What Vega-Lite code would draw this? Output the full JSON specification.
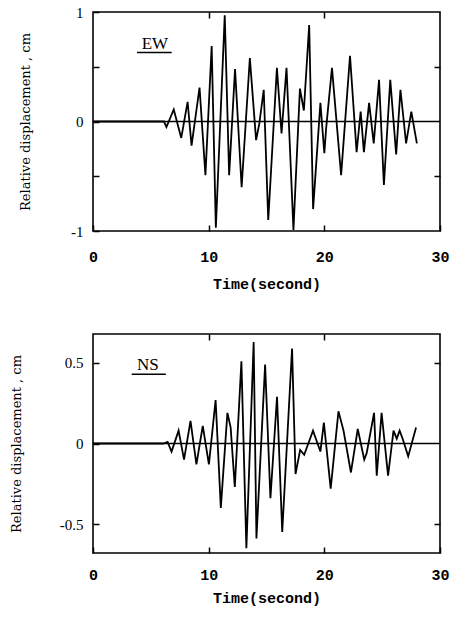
{
  "$schema": "https://vega.github.io/schema/vega-lite/v6.json",
  "background": "white",
  "padding": {"left": 9, "top": 4, "right": 0, "bottom": 10},
  "spacing": 40,
  "config": {
    "view": {"stroke": "black", "strokeWidth": 1.6},
    "axis": {
      "grid": false, "domain": false, "tickColor": "black", "tickSize": -6, "tickWidth": 1.5,
      "labelColor": "black", "titleColor": "black",
      "labelFont": "Liberation Serif", "labelFontSize": 15,
      "titleFont": "DejaVu Serif", "titleFontWeight": "normal", "titleFontSize": 13
    }
  },
  "datasets": {
    "ew": [
      {"t": 0, "v": 0}, {"t": 6.13, "v": 0}, {"t": 6.35, "v": -0.05}, {"t": 6.98, "v": 0.11},
      {"t": 7.63, "v": -0.15}, {"t": 8.18, "v": 0.18}, {"t": 8.52, "v": -0.22}, {"t": 9.21, "v": 0.31},
      {"t": 9.72, "v": -0.49}, {"t": 10.26, "v": 0.69}, {"t": 10.62, "v": -0.97}, {"t": 11.39, "v": 0.97},
      {"t": 11.77, "v": -0.49}, {"t": 12.28, "v": 0.48}, {"t": 12.85, "v": -0.6}, {"t": 13.56, "v": 0.58},
      {"t": 14.1, "v": -0.17}, {"t": 14.38, "v": -0.02}, {"t": 14.76, "v": 0.29}, {"t": 15.15, "v": -0.9},
      {"t": 15.9, "v": 0.49}, {"t": 16.3, "v": -0.11}, {"t": 16.73, "v": 0.49}, {"t": 17.33, "v": -0.99},
      {"t": 17.89, "v": 0.3}, {"t": 18.23, "v": 0.1}, {"t": 18.69, "v": 0.88}, {"t": 19.03, "v": -0.8},
      {"t": 19.66, "v": 0.17}, {"t": 20.0, "v": -0.29}, {"t": 20.15, "v": -0.07}, {"t": 20.66, "v": 0.49},
      {"t": 21.45, "v": -0.49}, {"t": 22.22, "v": 0.6}, {"t": 22.79, "v": -0.28}, {"t": 23.14, "v": 0.09},
      {"t": 23.42, "v": -0.28}, {"t": 23.87, "v": 0.17}, {"t": 24.27, "v": -0.2}, {"t": 24.73, "v": 0.38},
      {"t": 25.15, "v": -0.58}, {"t": 25.7, "v": 0.38}, {"t": 26.21, "v": -0.3}, {"t": 26.58, "v": 0.29},
      {"t": 27.07, "v": -0.2}, {"t": 27.52, "v": 0.09}, {"t": 28.0, "v": -0.2}
    ],
    "ns": [
      {"t": 0, "v": 0}, {"t": 6.09, "v": 0}, {"t": 6.45, "v": 0.01}, {"t": 6.79, "v": -0.05},
      {"t": 7.4, "v": 0.08}, {"t": 7.87, "v": -0.1}, {"t": 8.43, "v": 0.14}, {"t": 8.94, "v": -0.13},
      {"t": 9.49, "v": 0.11}, {"t": 10.02, "v": -0.13}, {"t": 10.6, "v": 0.27}, {"t": 11.05, "v": -0.4},
      {"t": 11.62, "v": 0.19}, {"t": 11.9, "v": 0.1}, {"t": 12.26, "v": -0.27}, {"t": 12.83, "v": 0.51},
      {"t": 13.26, "v": -0.65}, {"t": 13.89, "v": 0.63}, {"t": 14.13, "v": -0.59}, {"t": 14.88, "v": 0.49},
      {"t": 15.34, "v": -0.34}, {"t": 15.91, "v": 0.29}, {"t": 16.36, "v": -0.55}, {"t": 17.21, "v": 0.59},
      {"t": 17.51, "v": -0.19}, {"t": 17.91, "v": -0.04}, {"t": 18.26, "v": -0.07}, {"t": 19.02, "v": 0.08},
      {"t": 19.66, "v": -0.05}, {"t": 19.96, "v": 0.13}, {"t": 20.55, "v": -0.28}, {"t": 21.22, "v": 0.2},
      {"t": 21.66, "v": 0.08}, {"t": 22.3, "v": -0.18}, {"t": 22.89, "v": 0.09}, {"t": 23.45, "v": -0.1},
      {"t": 23.66, "v": -0.06}, {"t": 24.3, "v": 0.19}, {"t": 24.53, "v": -0.2}, {"t": 24.95, "v": 0.19},
      {"t": 25.51, "v": -0.2}, {"t": 25.98, "v": 0.08}, {"t": 26.26, "v": 0.03}, {"t": 26.51, "v": 0.08},
      {"t": 26.77, "v": 0.03}, {"t": 27.25, "v": -0.08}, {"t": 27.93, "v": 0.1}
    ]
  },
  "vconcat": [
    {
      "width": 347, "height": 219,
      "layer": [
        {
          "data": {"name": "ew"},
          "mark": {"type": "line", "color": "black", "strokeWidth": 1.8},
          "encoding": {
            "x": {"field": "t", "type": "quantitative", "scale": {"domain": [0, 30], "nice": false},
              "axis": {"orient": "bottom", "values": [0, 10, 20, 30], "title": "Time(second)",
                "labelFont": "Liberation Mono", "labelFontWeight": "bold", "labelFontSize": 15,
                "labelPadding": 24, "labelFlush": false,
                "titleFont": "Liberation Mono", "titleFontWeight": "bold", "titleFontSize": 15, "titlePadding": 12}},
            "y": {"field": "v", "type": "quantitative", "scale": {"domain": [-1, 1], "nice": false},
              "axis": {"orient": "left", "values": [-1, -0.5, 0, 0.5, 1],
                "labelExpr": "datum.value == 1 ? '1' : datum.value == 0 ? '0' : datum.value == -1 ? '-1' : ''",
                "labelPadding": 16, "title": "Relative displacement , cm", "titlePadding": 38}}
          }
        },
        {
          "data": {"values": [{}]},
          "mark": {"type": "rule", "color": "black", "strokeWidth": 1.5},
          "encoding": {"y": {"datum": 0, "type": "quantitative", "axis": null}}
        },
        {
          "data": {"values": [{}]},
          "mark": {"type": "text", "font": "Liberation Serif", "fontSize": 17, "color": "black", "baseline": "middle", "align": "center"},
          "encoding": {
            "x": {"datum": 5.35, "type": "quantitative", "axis": {"orient": "top", "values": [10, 20], "labels": false, "title": null}},
            "y": {"datum": 0.71, "type": "quantitative", "axis": {"orient": "right", "values": [-0.5, 0.5], "labels": false, "title": null}},
            "text": {"value": "EW"}
          }
        },
        {
          "data": {"values": [{}]},
          "mark": {"type": "rule", "color": "black", "strokeWidth": 1.3},
          "encoding": {
            "x": {"datum": 3.8, "type": "quantitative", "axis": null},
            "x2": {"datum": 6.8},
            "y": {"datum": 0.63, "type": "quantitative", "axis": null}
          }
        }
      ],
      "resolve": {"axis": {"x": "independent", "y": "independent"}}
    },
    {
      "width": 347, "height": 219,
      "layer": [
        {
          "data": {"name": "ns"},
          "mark": {"type": "line", "color": "black", "strokeWidth": 1.8},
          "encoding": {
            "x": {"field": "t", "type": "quantitative", "scale": {"domain": [0, 30], "nice": false},
              "axis": {"orient": "bottom", "values": [0, 10, 20, 30], "title": "Time(second)",
                "labelFont": "Liberation Mono", "labelFontWeight": "bold", "labelFontSize": 15,
                "labelPadding": 20, "labelFlush": false,
                "titleFont": "Liberation Mono", "titleFontWeight": "bold", "titleFontSize": 15, "titlePadding": 8}},
            "y": {"field": "v", "type": "quantitative", "scale": {"domain": [-0.68, 0.68], "nice": false},
              "axis": {"orient": "left", "values": [-0.5, 0, 0.5],
                "labelExpr": "datum.value == 0.5 ? '0.5' : datum.value == 0 ? '0' : datum.value == -0.5 ? '-0.5' : ''",
                "labelPadding": 16, "title": "Relative displacement , cm", "titlePadding": 36}}
          }
        },
        {
          "data": {"values": [{}]},
          "mark": {"type": "rule", "color": "black", "strokeWidth": 1.5},
          "encoding": {"y": {"datum": 0, "type": "quantitative", "axis": null}}
        },
        {
          "data": {"values": [{}]},
          "mark": {"type": "text", "font": "Liberation Serif", "fontSize": 17, "color": "black", "baseline": "middle", "align": "center"},
          "encoding": {
            "x": {"datum": 4.75, "type": "quantitative", "axis": {"orient": "top", "values": [10, 20], "labels": false, "title": null}},
            "y": {"datum": 0.49, "type": "quantitative", "axis": {"orient": "right", "values": [-0.5, 0.5], "labels": false, "title": null}},
            "text": {"value": "NS"}
          }
        },
        {
          "data": {"values": [{}]},
          "mark": {"type": "rule", "color": "black", "strokeWidth": 1.3},
          "encoding": {
            "x": {"datum": 3.35, "type": "quantitative", "axis": null},
            "x2": {"datum": 6.3},
            "y": {"datum": 0.43, "type": "quantitative", "axis": null}
          }
        }
      ],
      "resolve": {"axis": {"x": "independent", "y": "independent"}}
    }
  ]
}
